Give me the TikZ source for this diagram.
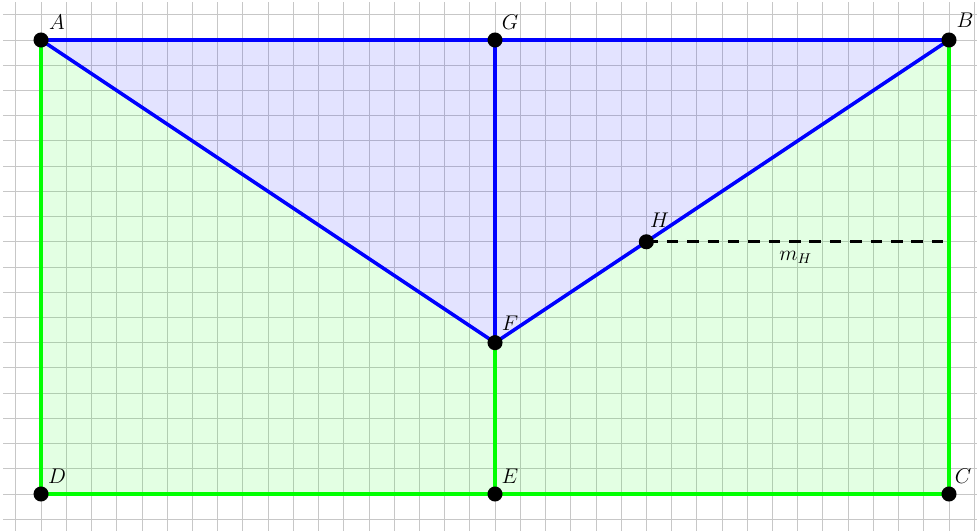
\documentclass[tikz,border=0pt]{standalone}
\begin{document}
\begin{tikzpicture}[x=0.5cm,y=0.5cm,
  gridline/.style={draw=black!22,line width=0.45pt},
  blueline/.style={draw=blue,line width=2pt},
  greenline/.style={draw=green,line width=2pt},
  pt/.style={circle,fill=black,inner sep=0pt,minimum size=8.5pt},
  lab/.style={inner sep=0pt,font=\large}]
\useasboundingbox (-1.627,-1.429) rectangle (37.111,19.587);
\coordinate (A) at (0,18);
\coordinate (B) at (36,18);
\coordinate (C) at (36,0);
\coordinate (D) at (0,0);
\coordinate (E) at (18,0);
\coordinate (F) at (18,6);
\coordinate (G) at (18,18);
\coordinate (H) at (24,10);
\coordinate (M) at (35.85,10);
\draw[gridline,step=0.5cm] (-1.5,-1.5) grid (37.5,19.5);
\fill[green,fill opacity=0.11] (A) -- (D) -- (C) -- (B) -- (F) -- cycle;
\fill[blue,fill opacity=0.11] (A) -- (B) -- (F) -- cycle;
\draw[greenline] (A) -- (D) -- (C) -- (B);
\draw[greenline] (E) -- (F);
\draw[blueline] (A) -- (G) -- (B) -- (F) -- cycle;
\draw[blueline] (G) -- (F);
\draw[black,line width=1.8pt,dash pattern=on 6.5pt off 5pt] (H) -- node[below=1pt,font=\large] {$m_H$} (M);
\foreach \p in {A,B,C,D,E,F,G,H} \node[pt] (n\p) at (\p) {};
\node[lab] (lA) at ([xshift=9pt,yshift=10pt]nA.center) {$A$};
\node[lab] (lB) at ([xshift=9pt,yshift=11pt]nB.center) {$B$};
\node[lab] (lC) at ([xshift=8pt,yshift=10pt]nC.center) {$C$};
\node[lab] (lD) at ([xshift=9pt,yshift=10pt]nD.center) {$D$};
\node[lab] (lE) at ([xshift=8.5pt,yshift=10pt]nE.center) {$E$};
\node[lab] (lF) at ([xshift=8.5pt,yshift=11pt]nF.center) {$F$};
\node[lab] (lG) at ([xshift=8.5pt,yshift=10pt]nG.center) {$G$};
\node[lab] (lH) at ([xshift=7.5pt,yshift=12pt]nH.center) {$H$};
\end{tikzpicture}
\end{document}
